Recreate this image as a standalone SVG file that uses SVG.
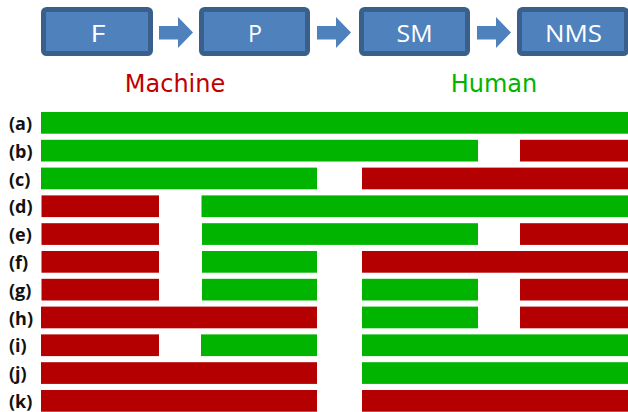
<svg xmlns="http://www.w3.org/2000/svg" width="628" height="412" viewBox="0 0 628 412">
<style>
.box{fill:#4f81bd;stroke:#3b5f8c;stroke-width:5}
.bt{font-family:"Open Sans","DejaVu Sans",sans-serif;font-size:23px;fill:#ffffff;text-anchor:middle}
.arr{fill:#4f81bd}
.g{fill:#00b400}
.r{fill:#b40000}
.lb{font-family:"Open Sans","DejaVu Sans",sans-serif;font-size:18px;font-weight:bold;fill:#111111}
.cap{font-family:"DejaVu Sans",sans-serif;font-size:24px;text-anchor:middle}
</style>
<rect width="628" height="412" fill="#ffffff"/>
<g id="node-F"><rect class="box" x="43.5" y="9.5" width="107" height="44" rx="3"/><text class="bt" x="98" y="41.5" textLength="15" lengthAdjust="spacingAndGlyphs">F</text></g>
<g id="node-P"><rect class="box" x="201.5" y="9.5" width="106" height="44" rx="3"/><text class="bt" x="255" y="41.5" textLength="14" lengthAdjust="spacingAndGlyphs">P</text></g>
<g id="node-SM"><rect class="box" x="361.5" y="9.5" width="106" height="44" rx="3"/><text class="bt" x="414.5" y="41.5" textLength="36" lengthAdjust="spacingAndGlyphs">SM</text></g>
<g id="node-NMS"><rect class="box" x="519.5" y="9.5" width="107" height="44" rx="3"/><text class="bt" x="573.5" y="41.5" textLength="57" lengthAdjust="spacingAndGlyphs">NMS</text></g>
<g id="connectors">
<polygon class="arr" points="159,26 178,26 178,17 193,32.5 178,48 178,39.5 159,39.5"/>
<polygon class="arr" points="317,26 336,26 336,17 351,32.5 336,48 336,39.5 317,39.5"/>
<polygon class="arr" points="477,26 496,26 496,17 511,32.5 496,48 496,39.5 477,39.5"/>
</g>
<text class="cap" x="175" y="92" fill="#c00000">Machine</text>
<text class="cap" x="494" y="92" fill="#00b400">Human</text>
<g id="row-a"><text class="lb" x="9" y="130">(a)</text><rect class="g" x="41" y="112" width="587" height="21.7"/></g>
<g id="row-b"><text class="lb" x="9" y="157.8">(b)</text><rect class="g" x="41" y="139.8" width="437" height="21.7"/><rect class="r" x="520" y="139.8" width="108" height="21.7"/></g>
<g id="row-c"><text class="lb" x="9" y="185.6">(c)</text><rect class="g" x="41" y="167.6" width="276" height="21.7"/><rect class="r" x="362" y="167.6" width="266" height="21.7"/></g>
<g id="row-d"><text class="lb" x="9" y="213.4">(d)</text><rect class="r" x="41.5" y="195.4" width="117.5" height="21.7"/><rect class="g" x="201.5" y="195.4" width="426.5" height="21.7"/></g>
<g id="row-e"><text class="lb" x="9" y="241.2">(e)</text><rect class="r" x="41.5" y="223.2" width="117.5" height="21.7"/><rect class="g" x="202" y="223.2" width="276" height="21.7"/><rect class="r" x="520" y="223.2" width="108" height="21.7"/></g>
<g id="row-f"><text class="lb" x="9" y="269">(f)</text><rect class="r" x="41.5" y="251" width="117.5" height="21.7"/><rect class="g" x="202" y="251" width="115" height="21.7"/><rect class="r" x="362" y="251" width="266" height="21.7"/></g>
<g id="row-g"><text class="lb" x="9" y="296.8">(g)</text><rect class="r" x="41.5" y="278.8" width="117.5" height="21.7"/><rect class="g" x="202" y="278.8" width="115" height="21.7"/><rect class="g" x="362" y="278.8" width="116" height="21.7"/><rect class="r" x="520" y="278.8" width="108" height="21.7"/></g>
<g id="row-h"><text class="lb" x="9" y="324.6">(h)</text><rect class="r" x="41" y="306.6" width="276" height="21.7"/><rect class="g" x="362" y="306.6" width="116" height="21.7"/><rect class="r" x="520" y="306.6" width="108" height="21.7"/></g>
<g id="row-i"><text class="lb" x="9" y="352.4">(i)</text><rect class="r" x="41" y="334.4" width="118" height="21.7"/><rect class="g" x="201" y="334.4" width="116" height="21.7"/><rect class="g" x="362" y="334.4" width="266" height="21.7"/></g>
<g id="row-j"><text class="lb" x="9" y="380.2">(j)</text><rect class="r" x="41" y="362.2" width="276" height="21.7"/><rect class="g" x="362" y="362.2" width="266" height="21.7"/></g>
<g id="row-k"><text class="lb" x="9" y="408">(k)</text><rect class="r" x="41" y="390" width="276" height="21.7"/><rect class="r" x="362" y="390" width="266" height="21.7"/></g>
</svg>
